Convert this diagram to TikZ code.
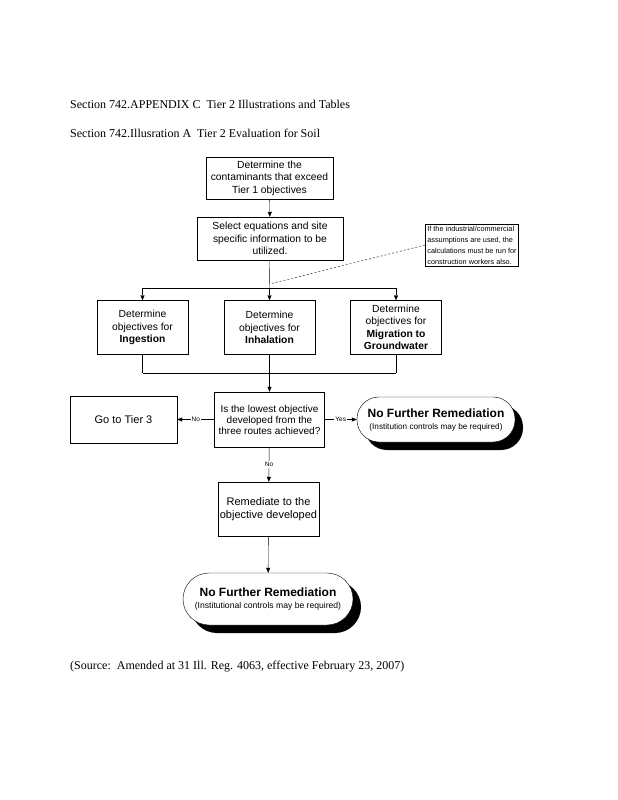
\documentclass[tikz,border=0pt]{standalone}
\usepackage{fontspec}
\setmainfont{Liberation Serif}
\setsansfont{Liberation Sans}
\usetikzlibrary{positioning,shadows,arrows.meta}

\tikzset{
  heading/.style={anchor=base west,inner sep=0pt,font=\fontsize{12}{14}\selectfont},
  flowbox/.style={draw,thin,align=center,inner sep=2pt,font=\sffamily\fontsize{10.3}{12.5}\selectfont},
  endbox/.style={draw,thin,fill=white,rounded corners=#1,align=center,inner sep=2pt,font=\sffamily,
    drop shadow={shadow xshift=8pt,shadow yshift=-8pt,fill=black,opacity=1}},
  link/.style={-{Triangle[length=5pt,width=4pt]}},
  tag/.style={fill=white,inner sep=1pt,font=\sffamily\fontsize{6.5}{7}\selectfont}
}

\begin{document}
\begin{tikzpicture}[x=1pt,y=-1pt]
    \useasboundingbox (0,0) rectangle (618,800);
    \node [heading] (title) at (70,108) {Section 742.APPENDIX C\ \ Tier 2 Illustrations and Tables};
    \node [heading] (subtitle) at (70,137) {Section 742.Illusration A\ \ Tier 2 Evaluation for Soil};

    \node [flowbox,minimum width=127pt,minimum height=42pt] (find) at (269.5,178) {Determine the\\contaminants that exceed\\Tier 1 objectives};
    \node [flowbox,minimum width=146pt,minimum height=43pt] (select) at (270,238.5) {Select equations and site\\specific information to be\\utilized.};
    \node [draw,thin,align=left,inner sep=2pt,font=\sffamily\fontsize{7.3}{11}\selectfont] (note) at (472,245) {If the industrial/commercial\\assumptions are used, the\\calculations must be run for\\construction workers also.};

    \foreach \n/\x/\t in {ingest/142.5/{Determine\\objectives for\\\textbf{Ingestion}},
                          inhale/269.5/{Determine\\objectives for\\\textbf{Inhalation}},
                          migrate/396/{Determine\\objectives for\\\textbf{Migration to}\\\textbf{Groundwater}}}
    \node [flowbox,minimum width=91pt,minimum height=54pt] (\n) at (\x,327.5) {\t};

    \coordinate (split) at (269.5,288);
    \coordinate (tap) at (269.5,284);
    \coordinate (merge) at (269.5,373);
    \draw [link] (find) -- (select);
    \draw (select) -- (split);
    \draw (split -| ingest) -- (split -| migrate);
    \foreach \n in {ingest,inhale,migrate} \draw [link] (split -| \n) -- (\n);
    \draw [dash pattern=on 2pt off 2pt] (note.west) -- (tap);

    \node [flowbox,font=\sffamily\fontsize{10}{11}\selectfont,minimum width=110pt,minimum height=55pt] (ask) at (269.5,419.5) {Is the lowest objective\\developed from the\\three routes achieved?};
    \node [flowbox,font=\sffamily\fontsize{11}{12}\selectfont,minimum width=107pt,minimum height=47pt] (tier3) at (123.5,419.5) {Go to Tier 3};
    \node [endbox=22pt,minimum width=158pt,minimum height=45pt] (stop1) at (436,419.5) {{\bfseries\fontsize{12}{14}\selectfont No Further Remediation}\\{\fontsize{8.2}{9}\selectfont (Institution controls may be required)}};
    \node [flowbox,font=\sffamily\fontsize{11}{12.5}\selectfont,minimum width=99pt,minimum height=54pt] (fix) at (268.5,509) {Remediate to the\\objective developed};
    \node [endbox=26pt,minimum width=170pt,minimum height=52pt] (stop2) at (268,599) {{\bfseries\fontsize{12}{14}\selectfont No Further Remediation}\\{\fontsize{8.6}{10}\selectfont (Institutional controls may be required)}};

    \foreach \n in {ingest,inhale,migrate} \draw (\n) -- (merge -| \n);
    \draw (merge -| ingest) -- (merge -| migrate);
    \draw [link] (merge) -- (ask);
    \draw [link] (ask) -- node [tag] {No} (tier3);
    \draw [link] (ask) -- node [tag] {Yes} (stop1);
    \draw [link] (ask) -- node [tag] {No} (fix);
    \draw [link] (fix) -- (stop2);

    \node [heading] (source) at (70,669) {(Source:\ \ Amended at 31 Ill. Reg. 4063, effective February 23, 2007)};
  \end{tikzpicture}
\end{document}
